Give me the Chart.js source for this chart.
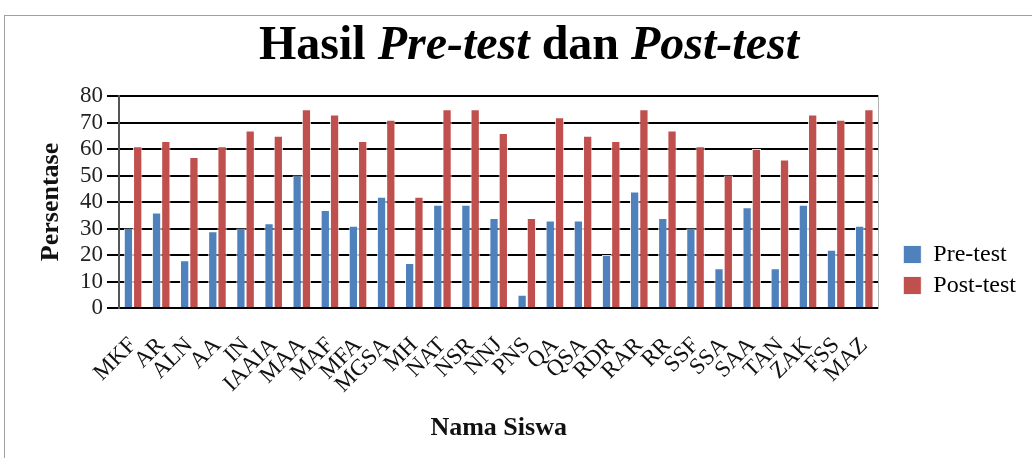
<!DOCTYPE html>
<html>
<head>
<meta charset="utf-8">
<script src="https://cdn.jsdelivr.net/npm/chart.js@4/dist/chart.umd.min.js"></script>
<style>
	html, body { margin: 0; padding: 0; background: #fff; }
</style>
</head>
<body>
<canvas id="chart" width="1032" height="458"></canvas>
<script>
// data
const students = [ "MKF", "AR", "ALN", "AA", "IN", "IAAIA", "MAA", "MAF", "MFA", "MGSA", "MH", "NAT", "NSR", "NNJ",
	"PNS", "QA", "QSA", "RDR", "RAR", "RR", "SSF", "SSA", "SAA", "TAN", "ZAK", "FSS", "MAZ" ];
const preTest = [ 30, 36, 18, 29, 30, 32, 50, 37, 31, 42, 17, 39, 39, 34, 5, 33, 33, 20, 44, 34, 30, 15, 38, 15, 39, 22, 31 ];
const postTest = [ 61, 63, 57, 61, 67, 65, 75, 73, 63, 71, 42, 75, 75, 66, 34, 72, 65, 63, 75, 67, 61, 50, 60, 56, 73, 71, 75 ];
const yMin = 0, yMax = 80, yStep = 10;

const serif = '"Liberation Serif", "Times New Roman", serif';
Chart.defaults.font.family = serif;
Chart.defaults.color = "#111";

// title with italic parts, plus the outer frame
const titleParts = [ [ "Hasil ", false ], [ "Pre-test", true ], [ " dan ", false ], [ "Post-test", true ] ];
const decor = {
	id: "decor",
	beforeDraw( chart ) {
		const ctx = chart.ctx;
		ctx.save();
		ctx.fillStyle = "#fff";
		ctx.fillRect( 0, 0, chart.width, chart.height );
		ctx.strokeStyle = "#a0a0a0";
		ctx.lineWidth = 1;
		ctx.strokeRect( 4.5, 15.5, 1100, 500 );
		ctx.restore();
	},
	afterDraw( chart ) {
		const ctx = chart.ctx;
		ctx.save();
		ctx.fillStyle = "#000";
		ctx.textBaseline = "alphabetic";
		const fontFor = italic => ( italic ? "italic " : "" ) + "bold 48px " + serif;
		let total = 0;
		titleParts.forEach( ( [ t, it ] ) => { ctx.font = fontFor( it ); total += ctx.measureText( t ).width; } );
		let x = 529 - total / 2;
		titleParts.forEach( ( [ t, it ] ) => {
			ctx.font = fontFor( it );
			ctx.fillText( t, x, 59 );
			x += ctx.measureText( t ).width;
		} );
		ctx.restore();
	}
};

new Chart( document.getElementById( "chart" ), {
	type: "bar",
	data: {
		labels: students,
		datasets: [
			{ label: "Pre-test", data: preTest, backgroundColor: "#4f81bd", borderColor: "rgba(255,255,255,0.85)", borderWidth: 1, borderSkipped: "start" },
			{ label: "Post-test", data: postTest, backgroundColor: "#c0504d", borderColor: "rgba(255,255,255,0.85)", borderWidth: 1, borderSkipped: "start" }
		]
	},
	options: {
		responsive: false,
		animation: false,
		layout: { padding: { top: 96, left: 30, right: 6, bottom: 14 } },
		datasets: { bar: { categoryPercentage: 0.66, barPercentage: 1.0 } },
		plugins: {
			title: { display: false },
			tooltip: { enabled: false },
			legend: {
				position: "right",
				labels: { boxWidth: 18, boxHeight: 18, padding: 7, color: "#000", font: { size: 24 } }
			}
		},
		scales: {
			x: {
				grid: { display: false },
				border: { display: false },
				ticks: { autoSkip: false, minRotation: 45, maxRotation: 45, padding: 16, color: "#111", font: { size: 23 } },
				title: { display: true, text: "Nama Siswa", color: "#111", font: { size: 26, weight: "bold" }, padding: { top: 2, bottom: 0 } },
				afterFit( scale ) { scale.height = 136; }
			},
			y: {
				min: yMin,
				max: yMax,
				ticks: { stepSize: yStep, autoSkip: false, padding: 4, color: "#222", font: { size: 23 } },
				grid: { color: "#000", lineWidth: 2, tickLength: 12 },
				border: { color: "#555", width: 2 },
				title: { display: true, text: "Persentase", color: "#111", font: { size: 26, weight: "bold" }, padding: { top: 6, bottom: 4 } },
				afterFit( scale ) { scale.width = 89; }
			},
			y2: {
				position: "right",
				min: yMin,
				max: yMax,
				ticks: { display: false },
				grid: { display: false },
				border: { color: "#b0b0b0", width: 1 },
				afterFit( scale ) { scale.width = 18; }
			}
		}
	},
	plugins: [ decor ]
} );
</script>
</body>
</html>
